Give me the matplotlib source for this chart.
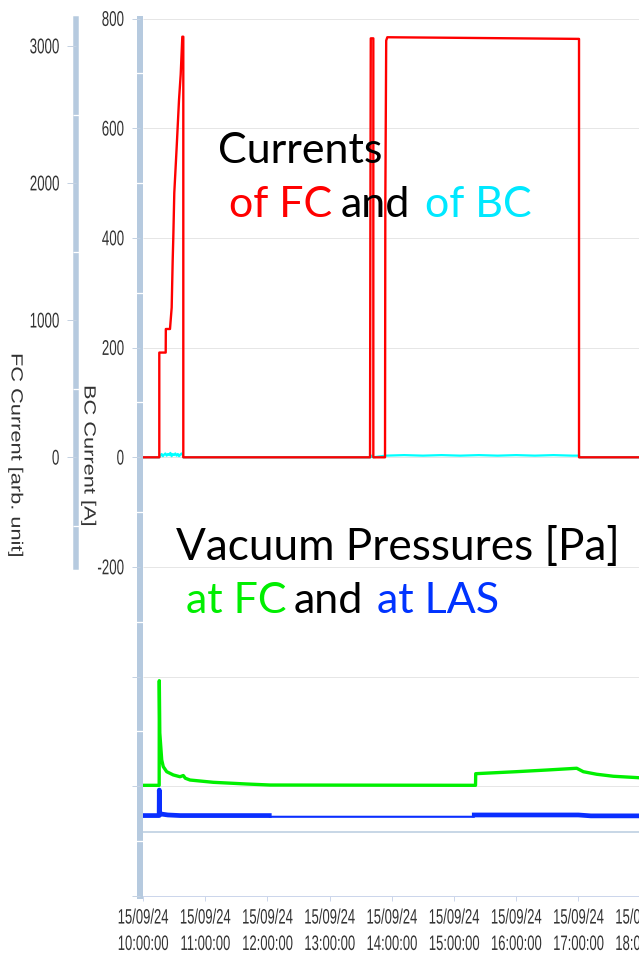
import numpy as np
import matplotlib
matplotlib.use('Agg')
import matplotlib.pyplot as plt
import matplotlib.dates as mdates
from matplotlib.ticker import FixedLocator, FixedFormatter, MultipleLocator, NullLocator
from matplotlib.patheffects import AbstractPathEffect
from matplotlib.transforms import Affine2D

plt.rcParams['font.family'] = ['Liberation Sans', 'DejaVu Sans']

DAY = '2024-09-15'

# ---- data (time in decimal hours of 15/09/24) ----
# FC current (red), arb. unit
fc_hours = [10.0, 10.262, 10.262, 10.365, 10.367, 10.434, 10.461, 10.477, 10.487, 10.503,
            10.542, 10.579, 10.606, 10.622, 10.632, 10.648, 10.648, 13.650, 13.655, 13.662,
            13.703, 13.703, 13.891, 13.896, 13.910, 13.928, 15.00, 16.00, 17.010, 17.010, 18.0]
fc_values = [0, 0, 764, 764, 936, 936, 1092, 1432, 1600, 1928,
             2268, 2608, 2792, 2960, 3068, 3068, 0, 0, 1505, 3056,
             3056, 0, 0, 1868, 3040, 3064, 3060, 3056, 3052, 0, 0]

# BC current (cyan), A
bc_hours = [10.0, 10.262, 10.28, 10.30, 10.32, 10.34, 10.36, 10.38, 10.40, 10.42, 10.44,
            10.46, 10.48, 10.50, 10.52, 10.54, 10.56, 10.58, 10.60, 10.62, 10.64, 10.648,
            13.66, 13.67, 13.70, 13.90, 14.2, 14.5, 14.8, 15.1, 15.4, 15.7, 16.0, 16.3,
            16.6, 16.9, 17.01, 17.02, 18.0]
bc_values = [0, 0, 3, 6, 2, 5, 7, 3, 6, 4, 8,
             2, 6, 4, 7, 3, 6, 2, 5, 7, 4, 0,
             0, 3, 0, 3, 4, 3, 4, 3, 4, 3, 4, 3,
             4, 3, 3, 0, 0]

# Vacuum pressure at FC (green), Pa
p_fc_hours = [10.0, 10.260, 10.262, 10.270, 10.301, 10.326, 10.381, 10.487, 10.595, 10.648,
              10.680, 10.756, 11.130, 11.667, 12.042, 15.346, 15.349, 16.0, 16.5, 16.973,
              17.079, 17.294, 17.561, 17.974, 18.0]
p_fc_values = [2.93e-7, 2.93e-7, 3.26e-6, 9.8e-7, 5.25e-7, 4.50e-7, 4.01e-7, 3.72e-7, 3.57e-7, 3.67e-7,
               3.45e-7, 3.31e-7, 3.14e-7, 3.02e-7, 2.95e-7, 2.93e-7, 3.83e-7, 4.01e-7, 4.17e-7, 4.34e-7,
               4.01e-7, 3.78e-7, 3.61e-7, 3.49e-7, 3.48e-7]

# Vacuum pressure at LAS (blue), Pa
p_las_hours = [10.0, 10.260, 10.262, 10.268, 10.30, 10.40, 10.60, 12.03, 12.035, 15.324,
               15.326, 17.0, 17.2, 18.0]
p_las_values = [1.46e-7, 1.46e-7, 2.63e-7, 1.55e-7, 1.51e-7, 1.48e-7, 1.46e-7, 1.46e-7, 1.42e-7, 1.42e-7,
                1.48e-7, 1.48e-7, 1.45e-7, 1.45e-7]
p_las_noisy_ranges = [(10.0, 12.03), (15.326, 18.0)]

bc_ticks = [800, 600, 400, 200, 0, -200, -400, -600, -800]
bc_tick_labels = ['800', '600', '400', '200', '0', '-200', '', '', '']
fc_ticks = [3000, 2000, 1000, 0]
fc_tick_labels = ['3000', '2000', '1000', '0']
x_tick_hours = [10, 11, 12, 13, 14, 15, 16, 17, 18]

# ---- styling ----
W, H = 639, 956
PX = 0.72
BAR = '#b6cadf'
TICK = '#c5d2e2'
GRID = '#e6e6e6'
LABEL = '#333333'
RED, CYAN, GREEN, BLUE = '#ff0000', '#00ffff', '#00f000', '#0a2eff'


class Stretch(AbstractPathEffect):
    """Render text glyphs stretched in their own frame (text stays text)."""
    def __init__(self, sx=1.0, sy=1.0, dy=0.0):
        super().__init__()
        self._t = Affine2D().scale(sx, sy).translate(0, dy)

    def draw_path(self, renderer, gc, tpath, affine, rgbFace=None):
        renderer.draw_path(gc, tpath, self._t + affine, rgbFace)


def to_time(hours):
    return np.datetime64(DAY) + (np.asarray(hours, float) * 3600e3).astype('timedelta64[ms]')


def fx(p):
    return p / W


def fy(p):
    return 1 - p / H


fig = plt.figure(figsize=(W / 100, H / 100), dpi=100)
fig.patch.set_facecolor('white')

x_left, x_right = 143, 640.6
y_top, y_bot = 18.6, 896
ax = fig.add_axes([fx(x_left), fy(y_bot), fx(x_right) - fx(x_left), fy(y_top) - fy(y_bot)])
ax_fc = fig.add_axes([fx(x_left), fy(567), fx(x_right) - fx(x_left), fy(y_top) - fy(567)])
ax_p = fig.add_axes([fx(x_left), fy(832), fx(x_right) - fx(x_left), fy(567) - fy(832)])

t0, t1 = to_time([10.0])[0], to_time([18.0])[0]

# ---- main BC axis ----
ax.set_xlim(t0, t1)
ax.set_ylim(-800, 800)
for s in ('top', 'right'):
    ax.spines[s].set_visible(False)
ax.spines['left'].set_position(('outward', 3 * PX))
ax.spines['left'].set_linewidth(6 * PX)
ax.spines['left'].set_color(BAR)
ax.spines['bottom'].set_color('#ccd6eb')
ax.spines['bottom'].set_linewidth(1 * PX)
ax.hlines(bc_ticks, 0, 1, transform=ax.get_yaxis_transform(), colors=GRID, lw=1 * PX, zorder=0.5)
ax.yaxis.set_major_locator(FixedLocator(bc_ticks))
ax.yaxis.set_major_formatter(FixedFormatter(bc_tick_labels))
ax.yaxis.set_minor_locator(MultipleLocator(100))
ax.tick_params(axis='y', which='major', direction='out', length=8 * PX, width=1 * PX,
               color=TICK, labelsize=9.6, labelcolor=LABEL, pad=8 * PX)
ax.tick_params(axis='y', which='minor', direction='inout', length=8 * PX, width=1.3 * PX, color='white')
ax.yaxis.set_zorder(3)
ax.xaxis.set_major_locator(FixedLocator(mdates.date2num(to_time(x_tick_hours))))
ax.xaxis.set_major_formatter(mdates.DateFormatter('%d/%m/%y\n%H:%M:%S'))
ax.tick_params(axis='x', which='major', direction='out', length=5 * PX, width=1 * PX,
               color='#ccd6eb', labelsize=9.4, labelcolor=LABEL, pad=8 * PX)
ax.plot(to_time(bc_hours), bc_values, color=CYAN, lw=1.6, zorder=2)

SY = 1.6
for lab in ax.get_yticklabels():
    lab.set_path_effects([Stretch(sy=SY, dy=-(SY - 1) * 35)])
for lab in ax.get_xticklabels():
    lab.set_linespacing(2.6)
    lab.set_path_effects([Stretch(sy=SY, dy=-(SY - 1) * 71)])

# ---- FC axis ----
ax_fc.set_xlim(t0, t1)
ax_fc.set_ylim(-800, 3200)
ax_fc.patch.set_visible(False)
for s in ('top', 'right', 'bottom'):
    ax_fc.spines[s].set_visible(False)
ax_fc.spines['left'].set_position(('outward', 67.5 * PX))
ax_fc.spines['left'].set_linewidth(5.5 * PX)
ax_fc.spines['left'].set_color(BAR)
ax_fc.xaxis.set_visible(False)
ax_fc.yaxis.set_major_locator(FixedLocator(fc_ticks))
ax_fc.yaxis.set_major_formatter(FixedFormatter(fc_tick_labels))
ax_fc.yaxis.set_minor_locator(MultipleLocator(500))
ax_fc.tick_params(axis='y', which='major', direction='out', length=8.7 * PX, width=1 * PX,
                  color=TICK, labelsize=9.6, labelcolor=LABEL, pad=7.5 * PX)
ax_fc.tick_params(axis='y', which='minor', direction='inout', length=7 * PX, width=1.3 * PX, color='white')
ax_fc.yaxis.set_zorder(3)
for lab in ax_fc.get_yticklabels():
    lab.set_path_effects([Stretch(sy=SY, dy=-(SY - 1) * 35)])
ax_fc.plot(to_time(fc_hours), fc_values, color=RED, lw=1.7, zorder=3)

# ---- pressure panel (log, no labels) ----
ax_p.set_xlim(t0, t1)
ax_p.set_yscale('log')
ax_p.set_ylim(1e-7, 4.47e-5)
ax_p.patch.set_visible(False)
for s in ('top', 'right', 'left'):
    ax_p.spines[s].set_visible(False)
ax_p.spines['bottom'].set_color(BAR)
ax_p.spines['bottom'].set_linewidth(1.5 * PX)
ax_p.set_xticks([])
ax_p.yaxis.set_major_locator(NullLocator())
ax_p.yaxis.set_minor_locator(NullLocator())
ax_p.tick_params(which='both', left=False, bottom=False, labelleft=False, labelbottom=False)

ph = np.asarray(p_las_hours)
pv = np.asarray(p_las_values)
ax_p.plot(to_time(p_fc_hours), p_fc_values, color=GREEN, lw=2.4, zorder=3)
ax_p.plot(to_time(ph), pv, color=BLUE, lw=1.5, zorder=3)
for a, b in p_las_noisy_ranges:
    m = (ph >= a) & (ph <= b)
    ax_p.plot(to_time(ph[m]), pv[m], color=BLUE, lw=3.4, zorder=3)

# ---- axis titles ----
fig.text(fx(16), fy(353), 'FC Current [arb. unit]', rotation=270, rotation_mode='anchor',
         ha='left', va='center', fontsize=11.7, color=LABEL,
         path_effects=[Stretch(sx=1.34)])
fig.text(fx(89), fy(385), 'BC Current [A]', rotation=270, rotation_mode='anchor',
         ha='left', va='center', fontsize=11.7, color=LABEL,
         path_effects=[Stretch(sx=1.34)])

# ---- annotations ----
AF = dict(family=['Lato', 'DejaVu Sans'], ha='left', va='baseline')
fig.text(fx(218), fy(163), 'Currents', color='black', fontsize=31, **AF)
fig.text(fx(229), fy(217), 'of FC', color=RED, fontsize=31, **AF)
fig.text(fx(341), fy(217), 'and', color='black', fontsize=31, **AF)
fig.text(fx(425), fy(217), 'of BC', color='#00e8ff', fontsize=31, **AF)
fig.text(fx(176), fy(560), 'Vacuum Pressures [Pa]', color='black', fontsize=31.8, **AF)
fig.text(fx(186), fy(613), 'at FC', color='#00ee00', fontsize=31, **AF)
fig.text(fx(294), fy(613), 'and', color='black', fontsize=31, **AF)
fig.text(fx(377), fy(613), 'at LAS', color='#0033ff', fontsize=31, **AF)

fig.savefig('out.png', dpi=100)
